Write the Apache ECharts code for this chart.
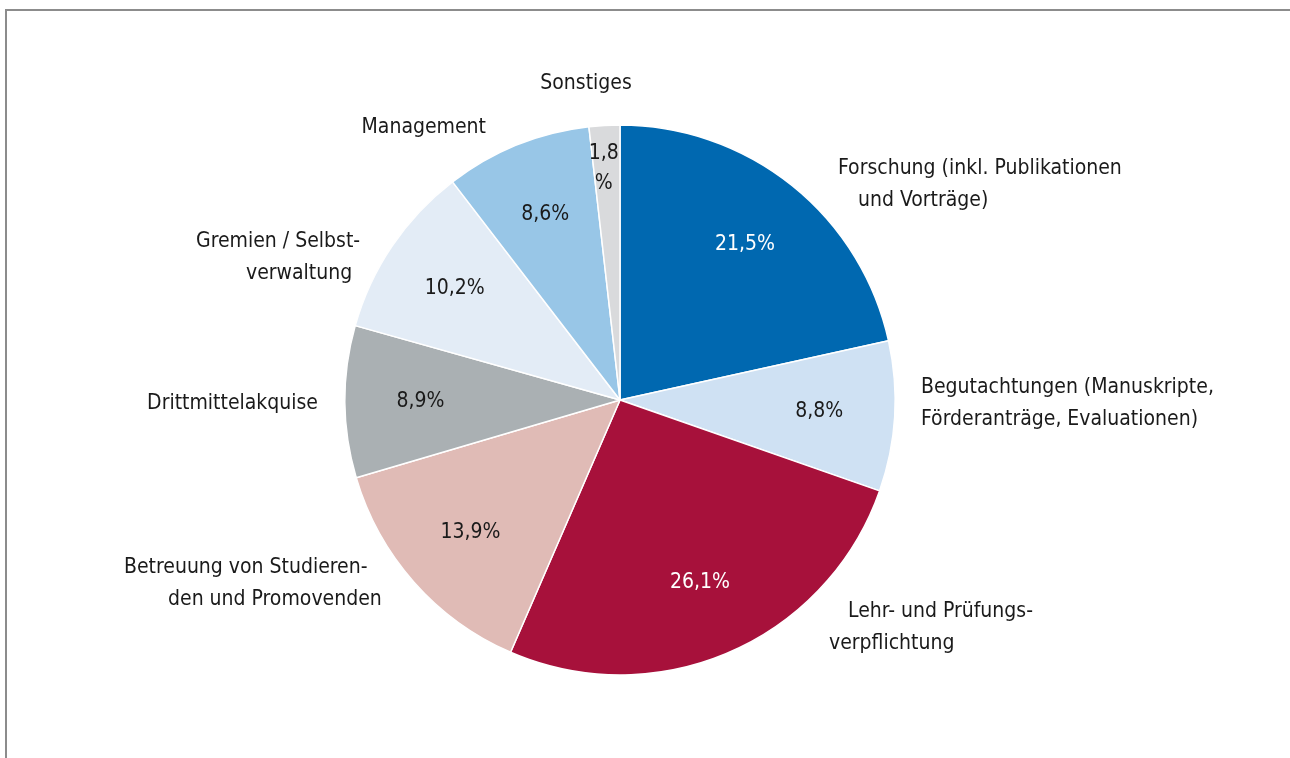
<!DOCTYPE html>
<html>
<head>
<meta charset="utf-8">
<script src="https://cdn.jsdelivr.net/npm/echarts@6/dist/echarts.min.js"></script>
<style>
  html, body { margin: 0; padding: 0; background: #fff; }
  #chart { width: 1290px; height: 758px; }
</style>
</head>
<body>
<div id="chart"></div>
<script>
// Daten
var categories = [
    'Forschung (inkl. Publikationen und Vorträge)',
    'Begutachtungen (Manuskripte, Förderanträge, Evaluationen)',
    'Lehr- und Prüfungsverpflichtung',
    'Betreuung von Studierenden und Promovenden',
    'Drittmittelakquise',
    'Gremien / Selbstverwaltung',
    'Management',
    'Sonstiges'
];
var values = [21.5, 8.8, 26.1, 13.9, 8.9, 10.2, 8.6, 1.8];
var colors = ['#0068b0', '#cfe1f3', '#a7113b', '#e0bbb6', '#aab0b3', '#e3ecf6', '#98c6e7', '#d9dadc'];

// Beschriftung aussen (Zeilen wie im Original umbrochen)
var outerText = [
    '{a|Forschung (inkl. Publikationen}\n{b|und Vorträge)}',
    'Begutachtungen (Manuskripte,\nFörderanträge, Evaluationen)',
    '{c|Lehr- und Prüfungs-}\n{a|verpflichtung}',
    '{a|Betreuung von Studieren-}\n{d|den und Promovenden}',
    'Drittmittelakquise',
    '{a|Gremien / Selbst-}\n{e|verwaltung}',
    'Management',
    'Sonstiges'
];
// Lage der Aussenbeschriftung: [x, y, Ausrichtung]
var outerPos = [
    [838, 185, 'left'],
    [921, 404, 'left'],
    [829, 628, 'left'],
    [124, 584, 'left'],
    [318, 404, 'right'],
    [196, 258, 'left'],
    [486, 128, 'right'],
    [586, 84, 'center']
];

var font = '"Liberation Sans Narrow", "DejaVu Sans Condensed", "Noto Sans", sans-serif';
var fs = 21;

var myChart = echarts.init(document.getElementById('chart'));

var pieData = [];
var labelData = [];
for (var i = 0; i < values.length; i++) {
    pieData.push({ name: categories[i], value: values[i], itemStyle: { color: colors[i] } });
    var item = { name: categories[i], value: values[i], label: {} };
    if (i === 7) {
        item.label.offset = [-5, -32];
    }
    item.label.color = (i === 0 || i === 2) ? '#ffffff' : '#1a1a1a';
    labelData.push(item);
}

function pct(v, i) {
    var s = String(v).replace('.', ',');
    if (i === 7) return s + '\n%';
    return s + '%';
}

function rs(pad) {
    return { fontFamily: font, fontSize: fs, color: '#1a1a1a', lineHeight: 32, padding: [0, 0, 0, pad] };
}

myChart.setOption({
    backgroundColor: '#ffffff',
    animation: false,
    graphic: [{
        type: 'rect',
        shape: { x: 6, y: 10, width: 1400, height: 900 },
        style: { fill: 'none', stroke: '#8c8c8c', lineWidth: 2 },
        silent: true
    }],
    series: [
        {
            name: 'Anteile',
            type: 'pie',
            center: [620, 400],
            radius: [0, 275],
            startAngle: 90,
            clockwise: true,
            silent: true,
            itemStyle: { borderColor: '#ffffff', borderWidth: 1.5 },
            label: {
                show: true,
                position: 'outside',
                fontFamily: font,
                fontSize: fs,
                color: '#1a1a1a',
                lineHeight: 32,
                formatter: function (p) { return outerText[p.dataIndex]; },
                rich: {
                    a: rs(0),
                    b: rs(20),
                    c: rs(19),
                    d: rs(44),
                    e: rs(50)
                }
            },
            labelLine: { show: false },
            labelLayout: function (p) {
                var pos = outerPos[p.dataIndex];
                return { x: pos[0], y: pos[1], align: pos[2], verticalAlign: 'middle' };
            },
            data: pieData
        },
        {
            name: 'Prozent',
            type: 'pie',
            center: [620, 400],
            radius: [118, 275],
            startAngle: 90,
            clockwise: true,
            silent: true,
            itemStyle: { color: 'rgba(0,0,0,0)' },
            label: {
                show: true,
                position: 'inside',
                fontFamily: font,
                fontSize: fs,
                lineHeight: 30,
                formatter: function (p) { return pct(p.value, p.dataIndex); },
                color: '#1a1a1a'
            },
            labelLine: { show: false },
            data: labelData
        }
    ]
});
</script>
</body>
</html>
